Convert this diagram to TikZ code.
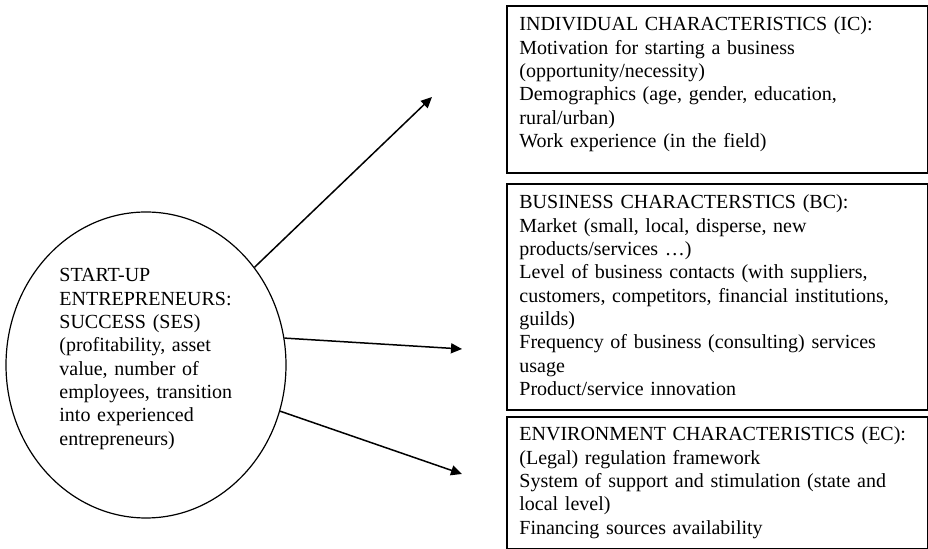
\documentclass[tikz,border=0pt]{standalone}
\usepackage{fontspec}
\setmainfont{Liberation Serif}
\usetikzlibrary{shapes.geometric,arrows.meta}

\begin{document}
\begin{tikzpicture}[x=0.5pt,y=-0.5pt,
    txt/.style={anchor=base west,align=left,inner sep=0pt,font=\fontsize{10}{11.65}\selectfont},
    frame/.style={draw,line width=0.9pt,anchor=north west,inner sep=0pt,minimum width=210.5pt},
    arr/.style={-{Triangle[length=5.5pt,width=5pt]},line width=0.75pt}]
      \useasboundingbox (0,0) rectangle (928,549);
      % success of start-ups
      \node[draw,ellipse,line width=0.6pt,minimum width=140pt,minimum height=153pt,inner sep=0pt] (ses) at (146,365) {};
      \node[txt,text width=95pt] (sestext) at (59,282) {START-UP\\ENTREPRENEURS:\\SUCCESS (SES)\\(profitability, asset\\value, number of\\employees, transition\\into experienced\\entrepreneurs)};
      % the three groups of characteristics
      \node[frame,minimum height=83.5pt] (ic) at (506,5) {};
      \node[frame,minimum height=113pt] (bc) at (506,183) {};
      \node[frame,minimum height=66pt] (ec) at (506,416) {};
      \node[txt,text width=205pt] (ictext) at (519,31) {INDIVIDUAL CHARACTERISTICS (IC):\\Motivation for starting a business\\(opportunity/necessity)\\Demographics (age, gender, education,\\rural/urban)\\Work experience (in the field)};
      \node[txt,text width=205pt] (bctext) at (519,209) {BUSINESS CHARACTERSTICS (BC):\\Market (small, local, disperse, new\\products/services …)\\Level of business contacts (with suppliers,\\customers, competitors, financial institutions,\\guilds)\\Frequency of business (consulting) services\\usage\\Product/service innovation};
      \node[txt,text width=205pt] (ectext) at (519,441) {ENVIRONMENT CHARACTERISTICS (EC):\\(Legal) regulation framework\\System of support and stimulation (state and\\local level)\\Financing sources availability};
      \coordinate (icend) at (432,97);
      \coordinate (bcend) at (462,349);
      \coordinate (ecend) at (462,474);
      \draw[arr] (ses.42)--(icend);
      \draw[arr] (ses.11)--(bcend);
      \draw[arr] (ses.-19)--(ecend);
    \end{tikzpicture}
\end{document}
